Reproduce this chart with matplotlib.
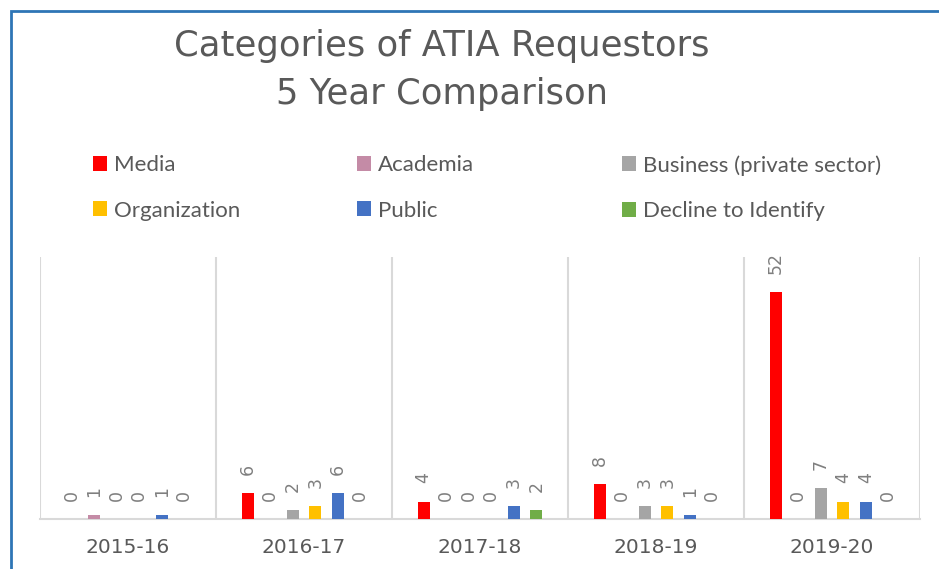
import numpy as np
import matplotlib
matplotlib.use("Agg")
import matplotlib.pyplot as plt
from matplotlib.patches import Rectangle

# data
years = ["2015-16", "2016-17", "2017-18", "2018-19", "2019-20"]
categories = ["Media", "Academia", "Business (private sector)",
              "Organization", "Public", "Decline to Identify"]
media = [0, 6, 4, 8, 52]
academia = [1, 0, 0, 0, 0]
business = [0, 2, 0, 3, 7]
organization = [0, 3, 0, 3, 4]
public = [1, 6, 3, 1, 4]
decline = [0, 0, 2, 0, 0]

series = [media, academia, business, organization, public, decline]
colors = ["#FF0000", "#C48BA6", "#A5A5A5", "#FFC000", "#4472C4", "#70AD47"]

text_col = "#595959"
grid_col = "#D9D9D9"

fig = plt.figure(figsize=(9.39, 5.69), dpi=100)
ax = fig.add_axes([40 / 939, 1 - 519 / 569, 880 / 939, 262 / 569])

x = np.arange(len(years))
slot = 0.128
width = 0.068
bars = []
for i, (vals, c) in enumerate(zip(series, colors)):
    b = ax.bar(x + (i - 2.5) * slot, vals, width=width, color=c,
               label=categories[i], zorder=3)
    ax.bar_label(b, labels=[str(v) for v in vals], rotation=90, padding=13,
                 color="#7F7F7F", fontsize=12.5, family="DejaVu Sans")
    bars.append(b)

ax.set_xlim(-0.5, 4.5)
ax.set_ylim(0, 60)
ax.set_yticks([])
ax.set_xticks(x)
ax.set_xticklabels(years, fontsize=14.5, color=text_col, family="DejaVu Sans")
ax.tick_params(axis="x", length=0, pad=14)

for s in ["top", "left", "right"]:
    ax.spines[s].set_visible(False)
ax.spines["bottom"].set_color(grid_col)
ax.spines["bottom"].set_linewidth(1.5)
for b in np.arange(-0.5, 5.0, 1.0):
    ax.axvline(b, color=grid_col, lw=1.5, zorder=1)

# title
fig.text(442 / 939, 1 - 46 / 569, "Categories of ATIA Requestors",
         ha="center", va="center", fontsize=25.5, color=text_col,
         family="DejaVu Sans")
fig.text(442 / 939, 1 - 94 / 569, "5 Year Comparison",
         ha="center", va="center", fontsize=25.5, color=text_col,
         family="DejaVu Sans")

# legend, one per column
columns = [(0, 3, 93), (1, 4, 357), (2, 5, 622)]
for a, b, xpos in columns:
    fig.legend([bars[a], bars[b]], [categories[a], categories[b]],
               loc="upper left", bbox_to_anchor=(xpos / 939, 1 - 155 / 569),
               frameon=False, handlelength=0.65, handleheight=0.65,
               handletextpad=0.3, labelspacing=1.15,
               prop={"family": "Lato", "size": 16}, labelcolor=text_col,
               borderaxespad=0, borderpad=0)

# blue outline of the chart area (cut off at right and bottom)
fig.patches.append(Rectangle((11 / 939, -0.1), 1.2, 1.1 - 11 / 569,
                             transform=fig.transFigure, fill=False,
                             edgecolor="#2E75B6", lw=2))

fig.savefig("out.png", dpi=100)
